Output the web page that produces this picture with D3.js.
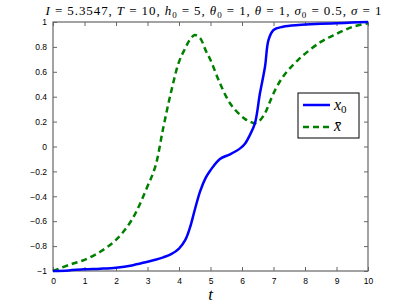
<!DOCTYPE html>
<html lang="en">
<head>
<meta charset="utf-8"/>
<title>x0 and x-bar over t</title>
<script src="https://cdn.jsdelivr.net/npm/d3@7"></script>
<style>
  body { margin: 0; background: #fff; }
  .tick-label { font-family: "Liberation Sans", Arial, sans-serif; font-size: 8.5px; fill: #000; }
  .math { font-family: "Liberation Serif", "DejaVu Serif", serif; font-style: italic; fill: #000; }
  .upright { font-style: normal; }
</style>
</head>
<body>
<div id="chart"></div>
<script>
// ---- data ----
var tValues   = [0, 0.5, 1, 1.5, 2, 2.5, 3, 3.25, 3.5, 3.75, 4, 4.2, 4.35, 4.5, 4.67, 4.85, 5, 5.3, 5.62, 5.94, 6.1, 6.25, 6.41, 6.57, 6.73, 6.84, 7, 7.3, 7.8, 8.5, 9, 9.5, 10];
var x0Values  = [-1, -0.995, -0.986, -0.981, -0.973, -0.955, -0.925, -0.91, -0.89, -0.865, -0.82, -0.75, -0.65, -0.51, -0.36, -0.25, -0.19, -0.10, -0.063, -0.015, 0.025, 0.092, 0.186, 0.427, 0.64, 0.855, 0.936, 0.962, 0.976, 0.985, 0.99, 0.995, 1];
var xbarValues = [-1, -0.952, -0.91, -0.845, -0.75, -0.59, -0.32, -0.16, 0.15, 0.44, 0.68, 0.79, 0.86, 0.895, 0.87, 0.77, 0.695, 0.508, 0.347, 0.253, 0.22, 0.2, 0.186, 0.21, 0.267, 0.33, 0.427, 0.56, 0.70, 0.84, 0.905, 0.96, 0.99];
var xTicks = [0, 1, 2, 3, 4, 5, 6, 7, 8, 9, 10];
var yTicks = [-1, -0.8, -0.6, -0.4, -0.2, 0, 0.2, 0.4, 0.6, 0.8, 1];

var margin = { top: 22, right: 39, bottom: 35, left: 53 },
  width = 407 - margin.left - margin.right,
  height = 306 - margin.top - margin.bottom;

var svg = d3.select("#chart")
  .append("svg")
    .attr("width", 407)
    .attr("height", 306)
  .append("g")
    .attr("transform", "translate(" + margin.left + "," + margin.top + ")");

var x = d3.scaleLinear().domain([0, 10]).range([0, width]);
var y = d3.scaleLinear().domain([-1, 1]).range([height, 0]);

function fmt(v) {
  var s = d3.format("~g")(+v.toFixed(1));
  return s.replace("-", "\u2212");
}

// ticks pointing inward, on all four sides
var tickLen = 4;
svg.append("g")
  .attr("transform", "translate(0," + height + ")")
  .call(d3.axisBottom(x).tickValues(xTicks).tickSize(-tickLen).tickPadding(7).tickFormat(fmt))
  .call(function(g) { g.select(".domain").remove(); });
svg.append("g")
  .call(d3.axisTop(x).tickValues(xTicks).tickSize(-tickLen).tickFormat(""))
  .call(function(g) { g.select(".domain").remove(); });
svg.append("g")
  .call(d3.axisLeft(y).tickValues(yTicks).tickSize(-tickLen).tickPadding(6).tickFormat(fmt))
  .call(function(g) { g.select(".domain").remove(); });
svg.append("g")
  .attr("transform", "translate(" + width + ",0)")
  .call(d3.axisRight(y).tickValues(yTicks).tickSize(-tickLen).tickFormat(""))
  .call(function(g) { g.select(".domain").remove(); });

svg.selectAll(".tick line").attr("stroke", "#666");
svg.selectAll(".tick text")
  .attr("class", "tick-label")
  .attr("font-family", null).attr("font-size", null);

// box
svg.append("rect")
  .attr("width", width)
  .attr("height", height)
  .attr("fill", "none")
  .attr("stroke", "#666")
  .attr("stroke-width", 1.2);

var line = d3.line().curve(d3.curveCatmullRom.alpha(0.5));

var x0Pts = tValues.map(function(t, i) { return [x(t), y(x0Values[i])]; });
var xbarPts = tValues.map(function(t, i) { return [x(t), y(xbarValues[i])]; });

svg.append("path")
  .attr("d", line(xbarPts))
  .attr("fill", "none")
  .attr("stroke", "#008000")
  .attr("stroke-width", 2.5)
  .attr("stroke-dasharray", "6,4");

svg.append("path")
  .attr("d", line(x0Pts))
  .attr("fill", "none")
  .attr("stroke", "#0000ff")
  .attr("stroke-width", 2.5);

// legend
var lg = svg.append("g").attr("transform", "translate(" + (298 - margin.left) + "," + (93 - margin.top) + ")");
lg.append("rect")
  .attr("width", 61).attr("height", 45)
  .attr("fill", "#fff").attr("stroke", "#000").attr("stroke-width", 1);
lg.append("line").attr("x1", 5).attr("x2", 32).attr("y1", 12).attr("y2", 12)
  .attr("stroke", "#0000ff").attr("stroke-width", 2.5);
lg.append("line").attr("x1", 5).attr("x2", 32).attr("y1", 34).attr("y2", 34)
  .attr("stroke", "#008000").attr("stroke-width", 2.5).attr("stroke-dasharray", "6,4");
var l1 = lg.append("text").attr("class", "math").attr("x", 36).attr("y", 17).attr("font-size", 16);
l1.append("tspan").text("x");
l1.append("tspan").attr("class", "upright").attr("font-size", 11).attr("dy", 3).text("0");
lg.append("text").attr("class", "math").attr("x", 36).attr("y", 38).attr("font-size", 16).text("x\u0304");

// title
var title = svg.append("text")
  .attr("class", "math")
  .attr("x", 160.5)
  .attr("y", 15 - margin.top)
  .attr("text-anchor", "middle")
  .attr("font-size", 13)
  .attr("textLength", 336)
  .attr("lengthAdjust", "spacing");
var parts = [
  ["I", null], [" = 5.3547, ", "u"], ["T", null], [" = 10, ", "u"],
  ["h", null], ["0", "s"], [" = 5, ", "u"], ["\u03b8", null], ["0", "s"], [" = 1, ", "u"],
  ["\u03b8", null], [" = 1, ", "u"], ["\u03c3", null], ["0", "s"], [" = 0.5, ", "u"],
  ["\u03c3", null], [" = 1", "u"]
];
var shift = 0;
parts.forEach(function(p) {
  var ts = title.append("tspan").text(p[0]);
  if (p[1] === "u" || p[1] === "s") ts.attr("class", "upright");
  if (p[1] === "s") { ts.attr("font-size", 9).attr("dy", 3 - shift); shift = 3; }
  else if (shift) { ts.attr("dy", -shift); shift = 0; }
});

// x label
svg.append("text")
  .attr("class", "math")
  .attr("x", x(5))
  .attr("y", height + 29)
  .attr("text-anchor", "middle")
  .attr("font-size", 17)
  .text("t");
</script>
</body>
</html>
